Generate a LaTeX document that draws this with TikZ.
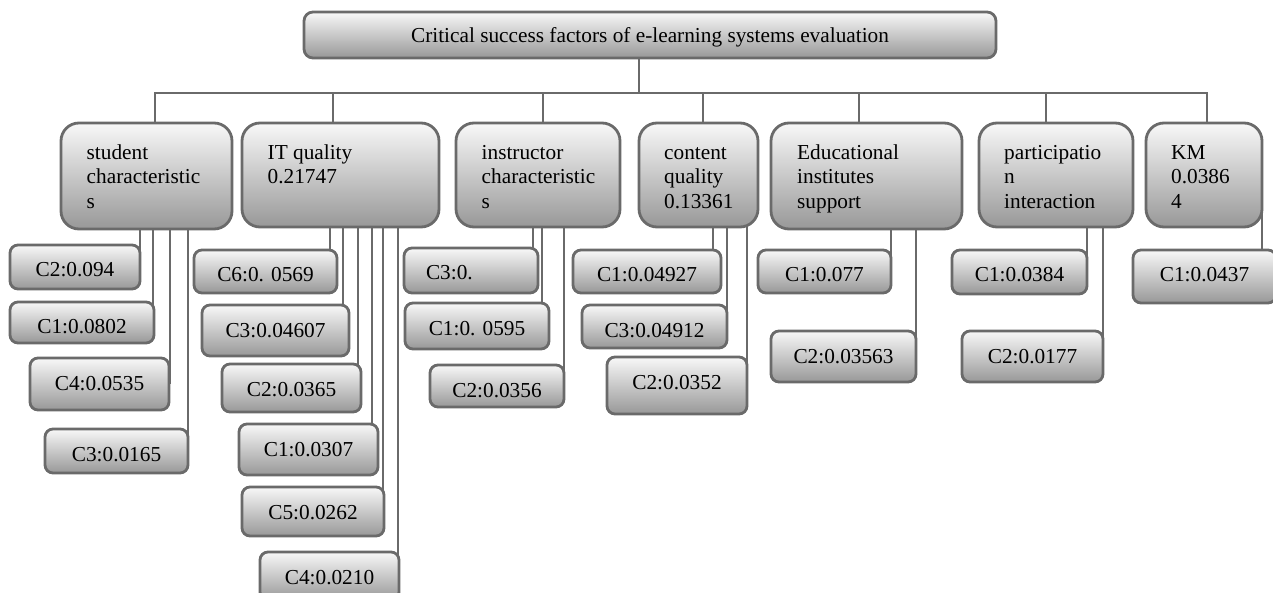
\documentclass[tikz,border=0pt]{standalone}
\usepackage{fontspec}
\setmainfont{Liberation Serif}
\usepackage{tikz}
\usetikzlibrary{backgrounds}
\definecolor{boxline}{HTML}{6A6A6A}
\definecolor{shadetop}{HTML}{F8F8F8}
\definecolor{shadebot}{HTML}{989898}
\tikzset{
  factor box/.style={
    draw=boxline,
    line width=2.8pt,
    top color=shadetop,
    bottom color=shadebot,
    outer sep=0pt,
    inner sep=0pt
  },
  title box/.style={
    factor box,
    rounded corners=9pt,
    font=\fontsize{21.3}{24.5}\selectfont,
    text height=31pt, text depth=15pt
  },
  cat box/.style={factor box, rounded corners=18pt},
  cat text/.style={
    anchor=north west, inner sep=0pt, align=left,
    font=\fontsize{21.3}{24.5}\selectfont
  },
  leaf/.style={
    factor box,
    rounded corners=8pt,
    font=\fontsize{21.3}{24.5}\selectfont,
    text height=32pt
  },
  link/.style={draw=boxline, line width=2.6pt}
}
\begin{document}
\begin{tikzpicture}[x=1pt, y=-1pt]
  \path[use as bounding box] (0,0) rectangle (1273,593);
  \clip (0,0) rectangle (1273,593);

  % Title
  \node[title box, minimum width=692] (top) at (650,35) {Critical success factors of e-learning systems evaluation};

  % Factors
  \node[cat box, minimum width=171, minimum height=106] (sc) at (146.5,176) {};
  \node[cat box, minimum width=197, minimum height=104] (it) at (340.5,175) {};
  \node[cat box, minimum width=164, minimum height=104] (ic) at (538,175) {};
  \node[cat box, minimum width=119, minimum height=104] (cq) at (698.5,175) {};
  \node[cat box, minimum width=191, minimum height=106] (ei) at (866.5,176) {};
  \node[cat box, minimum width=154, minimum height=104] (pi) at (1056,175) {};
  \node[cat box, minimum width=116, minimum height=104] (km) at (1204,175) {};

  % Factor texts
  \node[cat text] (sct) at ([xshift=25.5pt, yshift=-18.85pt]sc.north west) {\strut student\\characteristic\\s};
  \node[cat text] (itt) at ([xshift=25.5pt, yshift=-18.85pt]it.north west) {\strut IT quality\\0.21747};
  \node[cat text] (ict) at ([xshift=25.5pt, yshift=-18.85pt]ic.north west) {\strut instructor\\characteristic\\s};
  \node[cat text] (cqt) at ([xshift=25pt, yshift=-18.85pt]cq.north west) {\strut content\\quality\\0.13361};
  \node[cat text] (eit) at ([xshift=26pt, yshift=-18.85pt]ei.north west) {\strut Educational\\institutes\\support};
  \node[cat text] (pit) at ([xshift=25pt, yshift=-18.85pt]pi.north west) {\strut participatio\\n\\interaction};
  \node[cat text] (kmt) at ([xshift=25pt, yshift=-18.85pt]km.north west) {\strut KM\\0.0386\\4};

  % Sub-criteria
  \node[leaf, minimum width=130, text depth=12pt] (sc1) at (75,267) {C2:0.094};
  \node[leaf, minimum width=144, text depth=9pt] (sc2) at (82,322.5) {C1:0.0802};
  \node[leaf, minimum width=139, text depth=20pt] (sc3) at (99.5,384) {C4:0.0535};
  \node[leaf, minimum width=143, text depth=12pt] (sc4) at (116.5,451) {C3:0.0165};

  \node[leaf, minimum width=143, text depth=11pt] (it1) at (265.5,271.5) {C6:0. 0569};
  \node[leaf, minimum width=147, text depth=19pt] (it2) at (275.5,330.5) {C3:0.04607};
  \node[leaf, minimum width=139, text depth=16pt] (it3) at (291.5,388) {C2:0.0365};
  \node[leaf, minimum width=139, text depth=19pt] (it4) at (308.5,449.5) {C1:0.0307};
  \node[leaf, minimum width=142, text depth=17pt] (it5) at (313,511.5) {C5:0.0262};
  \node[leaf, minimum width=139, text depth=16pt] (it6) at (329.5,576) {C4:0.0210};

  \node[leaf, minimum width=134, text depth=13pt] (ic1) at (471,270.5) {\makebox[90pt][l]{C3:0.}};
  \node[leaf, minimum width=144, text depth=14pt] (ic2) at (477,326) {C1:0. 0595};
  \node[leaf, minimum width=134, text depth=10pt] (ic3) at (497,386) {C2:0.0356};

  \node[leaf, minimum width=148, text depth=11pt] (cq1) at (647,271.5) {C1:0.04927};
  \node[leaf, minimum width=145, text depth=11pt] (cq2) at (654.5,326.5) {C3:0.04912};
  \node[leaf, minimum width=140, text depth=25pt] (cq3) at (677,385.5) {C2:0.0352};

  \node[leaf, minimum width=133, text depth=11pt] (ei1) at (824.5,271.5) {C1:0.077};
  \node[leaf, minimum width=145, text depth=19pt] (ei2) at (843.5,356.5) {C2:0.03563};

  \node[leaf, minimum width=135, text depth=12pt] (pi1) at (1019.5,272) {C1:0.0384};
  \node[leaf, minimum width=141, text depth=19pt] (pi2) at (1032.5,356.5) {C2:0.0177};

  \node[leaf, minimum width=143, text depth=21pt] (km1) at (1204.5,276.5) {C1:0.0437};

  % Connectors
  \begin{scope}[on background layer]
    \coordinate (bar) at (639,93);
    \draw[link] (bar |- top.south) -- (bar);
    \foreach \f/\dx in {sc/8.5, it/-7.5, ic/5, cq/4.5, ei/-7.5, pi/-10, km/3}
      \draw[link] ([xshift=\dx pt]\f.north) |- (bar);
    \foreach \f/\c/\dx in {sc/sc1/0, sc/sc2/-1, sc/sc3/1, sc/sc4/0,
        it/it1/-7, it/it2/-6, it/it3/-3, it/it4/-6, it/it5/-1, it/it6/-1,
        ic/ic1/-5, ic/ic2/-7, ic/ic3/0,
        cq/cq1/-8, cq/cq2/0, cq/cq3/0,
        ei/ei1/0, ei/ei2/0, pi/pi1/0, pi/pi2/0}
    {
      \path (\c.north east) ++(\dx,0) coordinate (p);
      \draw[link] (p |- \f.center) -- (p |- \c.center);
    }
    \draw[link] (km.east) -- (km.east |- km1.center);
  \end{scope}
\end{tikzpicture}
\end{document}
